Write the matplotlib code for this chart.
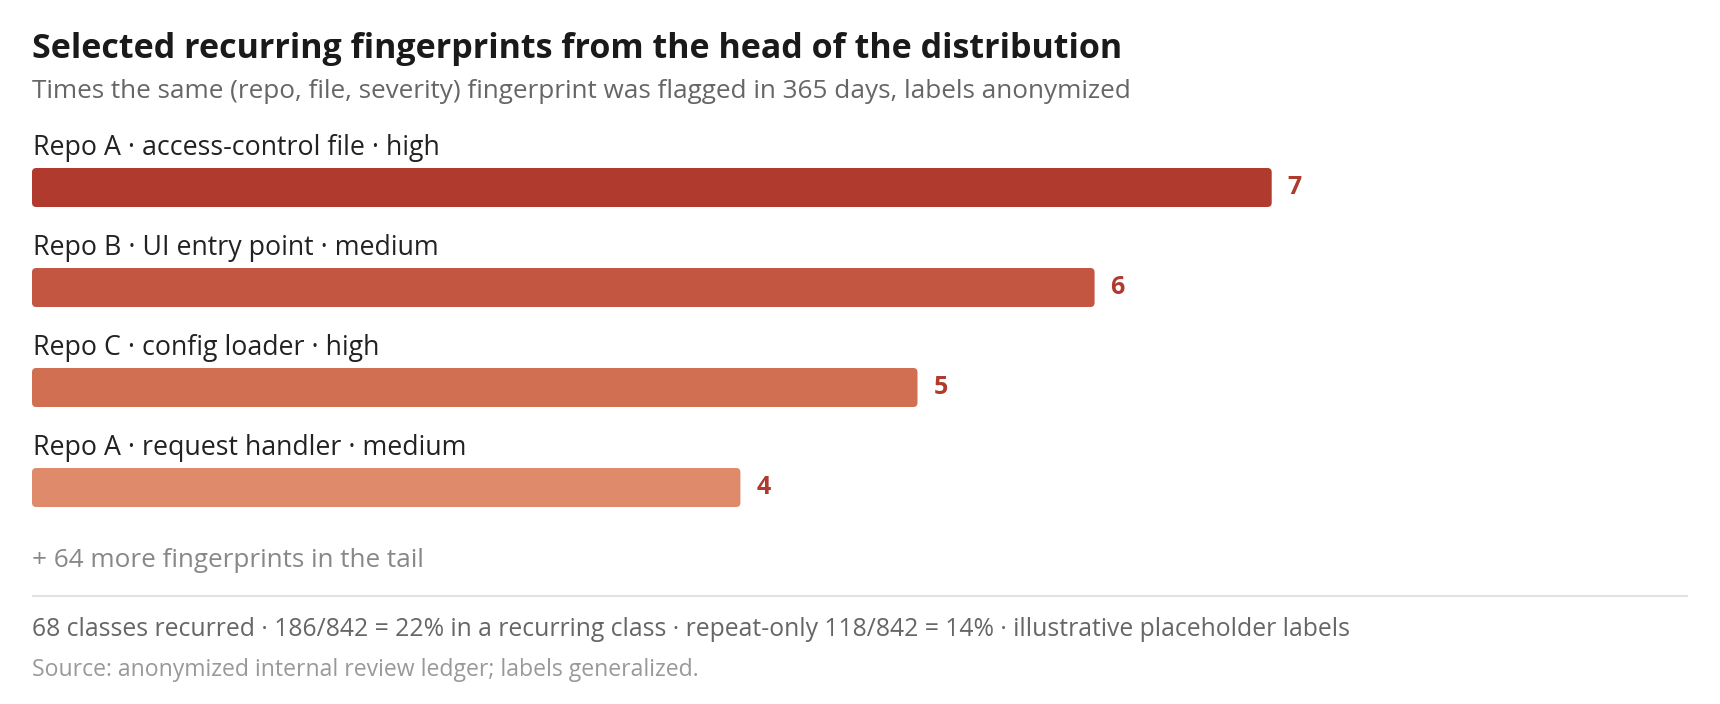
import matplotlib
matplotlib.use("Agg")
import matplotlib.pyplot as plt
from matplotlib.patches import FancyBboxPatch

plt.rcParams["font.family"] = ["Open Sans", "DejaVu Sans"]

# Dati
labels = [
    "Repo A · access-control file · high",
    "Repo B · UI entry point · medium",
    "Repo C · config loader · high",
    "Repo A · request handler · medium",
]
counts = [7, 6, 5, 4]
bar_colors = ["#b03a2e", "#c25641", "#d06f51", "#de8a6b"]

title = "Selected recurring fingerprints from the head of the distribution"
subtitle = "Times the same (repo, file, severity) fingerprint was flagged in 365 days, labels anonymized"
tail_note = "+ 64 more fingerprints in the tail"
stats_note = ("68 classes recurred · 186/842 = 22% in a recurring class · "
              "repeat-only 118/842 = 14% · illustrative placeholder labels")
source_note = "Source: anonymized internal review ledger; labels generalized."

W, H = 1720, 704
fig = plt.figure(figsize=(W / 100, H / 100), dpi=100)


def fx(px):
    return px / W


def fy(py):
    return 1 - py / H


# area barre: 177 px per unità, 100 px per riga
left, right, top, bottom = 32, 1688, 137.5, 537.5
ax = fig.add_axes([fx(left), fy(bottom), fx(right - left), (bottom - top) / H])
ax.set_xlim(0, (right - left) / 177.1)
ax.set_ylim(len(counts) - 0.5, -0.5)
ax.axis("off")

ypos = list(range(len(counts)))
bars = ax.barh(ypos, counts, height=0.39, left=0, color=bar_colors)

# barre con angoli arrotondati
aspect = (1 / 100) / (1 / 177.1)
for rect, col in zip(bars, bar_colors):
    x0, y0 = rect.get_x(), rect.get_y()
    w, h = rect.get_width(), rect.get_height()
    rect.remove()
    ax.add_patch(FancyBboxPatch(
        (x0, y0), w, h,
        boxstyle="round,pad=0,rounding_size=0.024",
        mutation_aspect=aspect,
        facecolor=col, edgecolor="none",
    ))

for i, (lab, n) in enumerate(zip(labels, counts)):
    ax.text(0.003, i - 0.325, lab, fontsize=19.3, color="#222222", va="baseline", ha="left")
    ax.text(n + 0.09, i, str(n), fontsize=18, fontweight="bold", color="#b03a2e",
            va="center", ha="left")

# Titoli
fig.text(fx(32), fy(57.5), title, fontsize=24.5, fontweight="bold", color="#1a1a1a", va="baseline")
fig.text(fx(32), fy(97.5), subtitle, fontsize=18.85, color="#666666", va="baseline")

# Note in basso
fig.text(fx(32), fy(567), tail_note, fontsize=18.8, color="#888888", va="baseline")
fig.add_artist(plt.Line2D([fx(33), fx(1687)], [fy(596), fy(596)], color="#e2e2e2", lw=1.5))
fig.text(fx(32), fy(636), stats_note, fontsize=17.85, color="#666666", va="baseline")
fig.text(fx(32), fy(676), source_note, fontsize=16.6, color="#999999", va="baseline")

fig.savefig("out.png", dpi=100, facecolor="white")
